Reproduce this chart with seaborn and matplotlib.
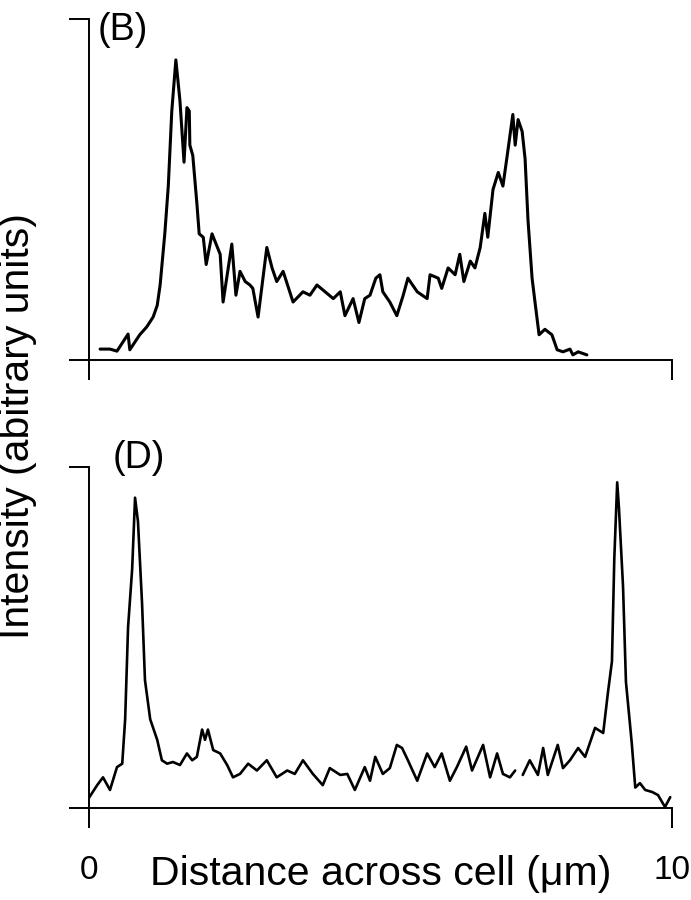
import numpy as np
import pandas as pd
import seaborn as sns
from matplotlib import pyplot as plt

# panel B trace (distance in um, intensity in arbitrary units 0-100)
b_x = [0.19, 0.36, 0.48, 0.67, 0.70, 0.87, 0.99, 1.10, 1.17, 1.22, 1.30, 1.36, 1.42,
       1.49, 1.56, 1.63, 1.68, 1.72, 1.73, 1.78, 1.85, 1.89, 1.96, 2.01, 2.11, 2.25,
       2.30, 2.45, 2.52, 2.59, 2.68, 2.76, 2.81, 2.90, 3.05, 3.14, 3.22, 3.33, 3.50,
       3.67, 3.79, 3.91, 4.05, 4.19, 4.31, 4.39, 4.53, 4.63, 4.73, 4.82, 4.92, 4.99,
       5.04, 5.16, 5.28, 5.39, 5.47, 5.63, 5.80, 5.85, 5.99, 6.05, 6.16, 6.28, 6.36,
       6.43, 6.54, 6.62, 6.71, 6.79, 6.84, 6.93, 7.02, 7.10, 7.19, 7.27, 7.31, 7.36,
       7.43, 7.48, 7.53, 7.60, 7.65, 7.72, 7.82, 7.94, 8.03, 8.13, 8.25, 8.30, 8.39,
       8.54]
b_y = [3.2, 3.2, 2.6, 7.6, 3.0, 7.4, 9.7, 12.6, 16, 22, 37, 51, 73,
       88, 76, 58, 74, 73, 63, 60, 46, 37, 36, 28, 37, 31,
       17, 34, 19, 26, 23, 22, 21, 12.6, 33, 27, 23, 26, 17,
       20, 19, 22, 20, 18, 20, 13, 18, 11, 18, 19, 24, 25,
       20, 17, 13, 19, 24, 20, 18, 25, 24, 21, 27, 25, 31,
       23, 29, 27, 33, 43, 36, 50, 55, 51, 62, 72, 63, 70.5,
       67, 59, 41, 24, 17, 7.4, 9, 7.4, 3, 2.4, 3.2, 1.5, 2.4,
       1.5]

# panel D trace (gap in the recording after 7.31 um)
d_x1 = [0.0, 0.14, 0.24, 0.36, 0.48, 0.57, 0.62, 0.67, 0.74, 0.79, 0.84, 0.91, 0.96,
        1.05, 1.17, 1.25, 1.34, 1.44, 1.56, 1.68, 1.77, 1.85, 1.94, 1.99, 2.04, 2.13,
        2.25, 2.37, 2.47, 2.59, 2.73, 2.88, 3.05, 3.22, 3.40, 3.53, 3.67, 3.84, 4.01,
        4.13, 4.31, 4.43, 4.56, 4.73, 4.82, 4.91, 5.04, 5.16, 5.28, 5.37, 5.47, 5.63,
        5.80, 5.93, 6.05, 6.19, 6.31, 6.47, 6.57, 6.76, 6.88, 7.00, 7.10, 7.22, 7.31]
d_y1 = [3, 6.7, 9, 5.3, 12, 13, 26, 53, 70, 91, 84, 60, 37.5,
        26, 20, 14, 13, 13.5, 12.6, 16, 14, 15, 23, 20, 23, 17,
        16, 12.6, 9, 10, 13, 11, 14, 9, 11, 10, 14, 10, 6.7,
        11.7, 9.7, 10, 5.3, 12, 8, 15, 10, 11.7, 18.5, 17.6, 14, 8,
        16, 12, 16, 8, 12, 18, 11, 18.5, 9, 16, 10, 9, 11]
d_x2 = [7.44, 7.56, 7.70, 7.79, 7.87, 8.04, 8.13, 8.25, 8.39, 8.51, 8.68, 8.82, 8.90,
        8.97, 9.01, 9.06, 9.09, 9.16, 9.21, 9.31, 9.37, 9.45, 9.54, 9.66, 9.76, 9.88,
        9.97]
d_y2 = [9.7, 14, 9.7, 17.6, 9.7, 18.5, 11.7, 14, 17.6, 15, 23.5, 22, 33.7,
        43, 73, 95.5, 88, 65, 37, 19, 6, 7.3, 5.3, 4.7, 3.8, 0.3,
        3.2]

panel_labels = ["(B)", "(D)"]
x_ticks = [0, 10]
x_ticklabels = ["0", "10"]

sns.set_style("ticks")
plt.rcParams["font.family"] = ["Liberation Sans", "DejaVu Sans"]
plt.rcParams["text.color"] = "black"
plt.rcParams["axes.labelcolor"] = "black"
plt.rcParams["axes.edgecolor"] = "black"
plt.rcParams["xtick.color"] = "black"
plt.rcParams["ytick.color"] = "black"

fig = plt.figure(figsize=(6.91, 9), dpi=100)
ax_b = fig.add_axes([0.1288, 0.6, 0.8437, 0.3789])
ax_d = fig.add_axes([0.1288, 0.1022, 0.8437, 0.3789])

df_b = pd.DataFrame({"x": b_x, "y": b_y})
sns.lineplot(data=df_b, x="x", y="y", ax=ax_b, color="black", lw=2.2,
             estimator=None, sort=False)

df_d = pd.DataFrame({"x": d_x1 + d_x2, "y": d_y1 + d_y2,
                     "seg": [0] * len(d_x1) + [1] * len(d_x2)})
sns.lineplot(data=df_d, x="x", y="y", units="seg", ax=ax_d, color="black", lw=1.9,
             estimator=None, sort=False)

for ax, lab in zip([ax_b, ax_d], panel_labels):
    ax.set_xlim(0, 10)
    ax.set_ylim(0, 100)
    ax.set_xticks(x_ticks)
    ax.set_yticks([0, 100])
    ax.set_yticklabels([])
    ax.set_xlabel("")
    ax.set_ylabel("")
    ax.tick_params(direction="out", length=14.5, width=1.4, labelsize=24, pad=19)
    for s in ["left", "bottom"]:
        ax.spines[s].set_linewidth(1.4)
    sns.despine(ax=ax)

ax_b.text(0.014, 1.02, panel_labels[0], transform=ax_b.transAxes, fontsize=27,
          ha="left", va="top")
ax_d.text(0.04, 1.08, panel_labels[1], transform=ax_d.transAxes, fontsize=27,
          ha="left", va="top")

ax_b.set_xticklabels([])
ax_d.set_xticklabels(x_ticklabels)

ax_d.set_xlabel("Distance across cell (\u03bcm)", fontsize=29.5)
ax_d.xaxis.label.set_va("baseline")
ax_d.xaxis.set_label_coords(0.5, -0.226)

fig.text(0.026, 1 - 426 / 900, "Intensity (abitrary units)", rotation=90,
         fontsize=29.5, ha="center", va="center")

fig.savefig("out.png", dpi=100)
